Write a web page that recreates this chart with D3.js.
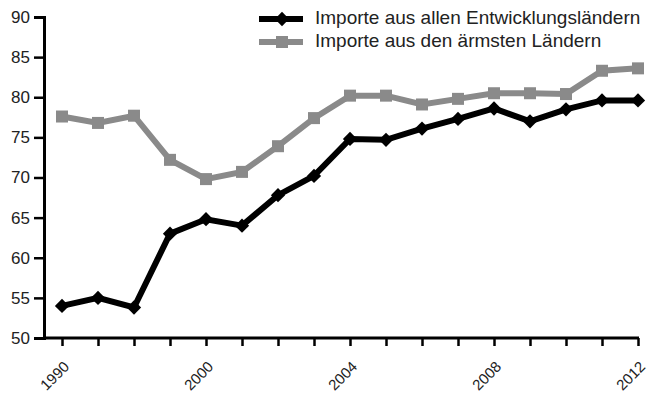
<!DOCTYPE html>
<html>
<head>
<meta charset="utf-8">
<script src="https://cdn.jsdelivr.net/npm/d3@7"></script>
<style>
  body { margin: 0; background: #fff; }
  text { font-family: "Liberation Sans", Arial, sans-serif; }
</style>
</head>
<body>
<div id="my_dataviz"></div>
<script>
// data
var years = ["1990","1995","1996","1997","2000","2001","2002","2003","2004","2005","2006","2007","2008","2009","2010","2011","2012"];
var tickLabels = ["1990","2000","2004","2008","2012"];
var alleLaender = [54.0, 55.0, 53.8, 63.0, 64.8, 64.0, 67.8, 70.2, 74.8, 74.7, 76.1, 77.3, 78.6, 77.0, 78.5, 79.6, 79.6];
var aermsteLaender = [77.6, 76.8, 77.7, 72.2, 69.8, 70.7, 73.9, 77.4, 80.2, 80.2, 79.1, 79.8, 80.5, 80.5, 80.4, 83.3, 83.6];
var seriesNames = ["Importe aus allen Entwicklungsländern", "Importe aus den ärmsten Ländern"];

// set the dimensions and margins of the graph
var margin = {top: 17, right: 10, bottom: 59, left: 44},
    width = 648 - margin.left - margin.right,
    height = 397 - margin.top - margin.bottom;

var svg = d3.select("#my_dataviz")
  .append("svg")
    .attr("width", width + margin.left + margin.right)
    .attr("height", height + margin.top + margin.bottom)
  .append("g")
    .attr("transform", "translate(" + margin.left + "," + margin.top + ")");

// X axis (categorical, every point gets a tick)
var x = d3.scalePoint()
  .domain(years)
  .range([18, 594]);

var xAxis = svg.append("g")
  .attr("transform", "translate(0," + height + ")")
  .call(d3.axisBottom(x).tickSizeOuter(0).tickSize(8)
    .tickFormat(function(d) { return tickLabels.indexOf(d) >= 0 ? d : ""; }))
  .attr("font-size", 15)
  .attr("font-family", null);
xAxis.select(".domain").attr("stroke-width", 3).attr("d", "M0,0H" + (x("2012") + 1));
xAxis.selectAll(".tick line").attr("stroke-width", 2.5);
xAxis.selectAll("text")
  .style("font-size", "15px")
  .attr("fill", "#222")
  .attr("text-anchor", "end")
  .attr("x", 0)
  .attr("y", 0)
  .attr("dy", "0.35em")
  .attr("transform", "translate(4,26) rotate(-45)");

// Y axis
var y = d3.scaleLinear()
  .domain([50, 90])
  .range([height, 0]);
var yAxis = svg.append("g")
  .call(d3.axisLeft(y).ticks(8).tickSizeOuter(0).tickSize(10).tickPadding(4))
  .attr("font-size", 17)
  .attr("font-family", null);
yAxis.select(".domain").attr("stroke-width", 3);
yAxis.selectAll(".tick line").attr("stroke-width", 2.5);
yAxis.selectAll("text").style("font-size", "17px").attr("fill", "#222");

var line = function(vals) {
  return d3.line()
    .x(function(d, i) { return x(years[i]); })
    .y(function(d) { return y(d); })(vals);
};

// gray line with squares
svg.append("path")
  .attr("d", line(aermsteLaender))
  .attr("fill", "none")
  .attr("stroke", "#8a8a8a")
  .attr("stroke-width", 6);
svg.selectAll(".sq")
  .data(aermsteLaender)
  .enter().append("rect")
    .attr("class", "sq")
    .attr("x", function(d, i) { return x(years[i]) - 6; })
    .attr("y", function(d) { return y(d) - 6; })
    .attr("width", 12)
    .attr("height", 12)
    .attr("fill", "#8a8a8a");

// black line with diamonds
svg.append("path")
  .attr("d", line(alleLaender))
  .attr("fill", "none")
  .attr("stroke", "#000")
  .attr("stroke-width", 6);
var diamond = d3.symbol().type(d3.symbolDiamond2).size(130);
svg.selectAll(".dia")
  .data(alleLaender)
  .enter().append("path")
    .attr("class", "dia")
    .attr("d", diamond)
    .attr("transform", function(d, i) { return "translate(" + x(years[i]) + "," + y(d) + ")"; })
    .attr("fill", "#000");

// legend
var lg = svg.append("g").attr("transform", "translate(" + (259 - margin.left) + "," + (19 - margin.top) + ")");
lg.append("line").attr("x1", 0).attr("x2", 44).attr("y1", 0).attr("y2", 0).attr("stroke", "#000").attr("stroke-width", 6);
lg.append("path").attr("d", diamond).attr("transform", "translate(23,0)").attr("fill", "#000");
lg.append("line").attr("x1", 0).attr("x2", 44).attr("y1", 23).attr("y2", 23).attr("stroke", "#8a8a8a").attr("stroke-width", 6);
lg.append("rect").attr("x", 17).attr("y", 17).attr("width", 12).attr("height", 12).attr("fill", "#8a8a8a");
lg.append("text").attr("x", 56).attr("y", 0).text(seriesNames[0]).style("font-size", "19px").attr("fill", "#222").attr("dominant-baseline", "middle");
lg.append("text").attr("x", 56).attr("y", 23).text(seriesNames[1]).style("font-size", "19px").attr("fill", "#222").attr("dominant-baseline", "middle");
</script>
</body>
</html>
